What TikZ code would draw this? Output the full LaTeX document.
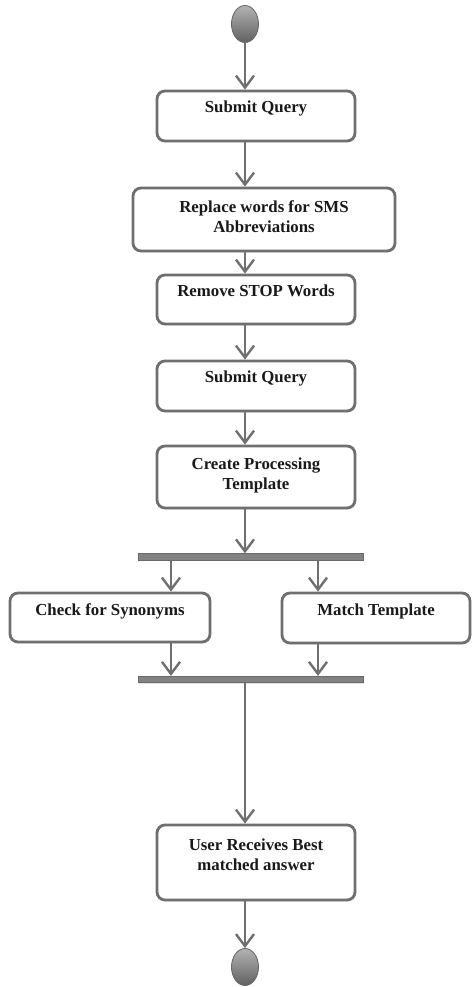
\documentclass[tikz,border=0pt]{standalone}
\usepackage{fontspec}
\setmainfont{Liberation Serif}
\usetikzlibrary{arrows.meta,shadows,shapes.geometric}

\definecolor{edgegray}{HTML}{6F6F6F}
\definecolor{bargray}{HTML}{828282}
\definecolor{bardark}{HTML}{6A6A6A}

\begin{document}
\begin{tikzpicture}[x=1pt,y=-1pt,
  stepbox/.style={draw=edgegray, line width=2.8pt, rounded corners=8pt, fill=white,
    inner sep=0pt, drop shadow={opacity=0.18, shadow xshift=1.2pt, shadow yshift=-1.5pt}},
  caption/.style={font=\bfseries\fontsize{16.8}{20}\selectfont, align=center, inner sep=0pt, text=black!90},
  syncbar/.style={draw=bardark, line width=0.8pt, fill=bargray, inner sep=0pt,
    minimum width=225pt, minimum height=6.5pt,
    drop shadow={opacity=0.2, shadow xshift=1pt, shadow yshift=-1.2pt}},
  terminal/.style={ellipse, draw=black!60, line width=0.8pt, top color=black!30,
    bottom color=black!62, inner sep=0pt, minimum width=27pt, minimum height=37pt},
  flow/.style={draw=edgegray, line width=2.6pt,
    -{Straight Barb[length=12pt, width=18pt, line width=2.4pt]}},
  plain/.style={draw=edgegray, line width=2.6pt}
]
  \useasboundingbox[fill=white] (0,0) rectangle (474,987);

  % start and end points
  \node[terminal] (start) at (245,24) {};
  \node[terminal] (stop) at (245,967) {};

  % main column of activities
  \node[stepbox, minimum width=198pt, minimum height=50pt] (b1) at (256,116) {};
  \node[caption] (b1t) at (256,108) {Submit Query};

  \node[stepbox, minimum width=262pt, minimum height=63pt] (b2) at (264,219.5) {};
  \node[caption] (b2t) at (264,217) {Replace words for SMS\\Abbreviations};

  \node[stepbox, minimum width=198pt, minimum height=49pt] (b3) at (256,299.5) {};
  \node[caption] (b3t) at (256,291) {Remove STOP Words};

  \node[stepbox, minimum width=198pt, minimum height=50pt] (b4) at (256,386) {};
  \node[caption] (b4t) at (256,378) {Submit Query};

  \node[stepbox, minimum width=198pt, minimum height=62pt] (b5) at (256,477) {};
  \node[caption] (b5t) at (256,475) {Create Processing\\Template};

  % fork and join bars
  \node[syncbar] (fork) at (250.5,557) {};
  \node[syncbar] (join) at (250.5,679.5) {};

  % parallel branch
  \node[stepbox, minimum width=200pt, minimum height=49pt] (syn) at (110,617.5) {};
  \node[caption] (synt) at (110,611) {Check for Synonyms};

  \node[stepbox, minimum width=188pt, minimum height=50pt] (mat) at (376,618) {};
  \node[caption] (matt) at (376,611) {Match Template};

  % final activity
  \node[stepbox, minimum width=198pt, minimum height=75pt] (b6) at (256,862.5) {};
  \node[caption] (b6t) at (256,855) {User Receives Best\\matched answer};

  % branch lanes
  \coordinate (lane) at (245,0);
  \coordinate (lx) at (171,0);
  \coordinate (rx) at (318,0);

  % connectors
  \draw[flow] (start.south) -- (b1.north -| lane);
  \draw[flow] (b1.south -| lane) -- (b2.north -| lane);
  \draw[flow] (b2.south -| lane) -- (b3.north -| lane);
  \draw[flow] (b3.south -| lane) -- (b4.north -| lane);
  \draw[flow] (b4.south -| lane) -- (b5.north -| lane);
  \draw[flow] (b5.south -| lane) -- (fork.north -| lane);

  \draw[flow] (fork.south -| lx) -- (syn.north -| lx);
  \draw[flow] (fork.south -| rx) -- (mat.north -| rx);
  \draw[flow] (syn.south -| lx) -- (join.north -| lx);
  \draw[flow] (mat.south -| rx) -- (join.north -| rx);

  \draw[flow] (join.south -| lane) -- (b6.north -| lane);
  \draw[flow] (b6.south -| lane) -- (stop.north);
\end{tikzpicture}
\end{document}
